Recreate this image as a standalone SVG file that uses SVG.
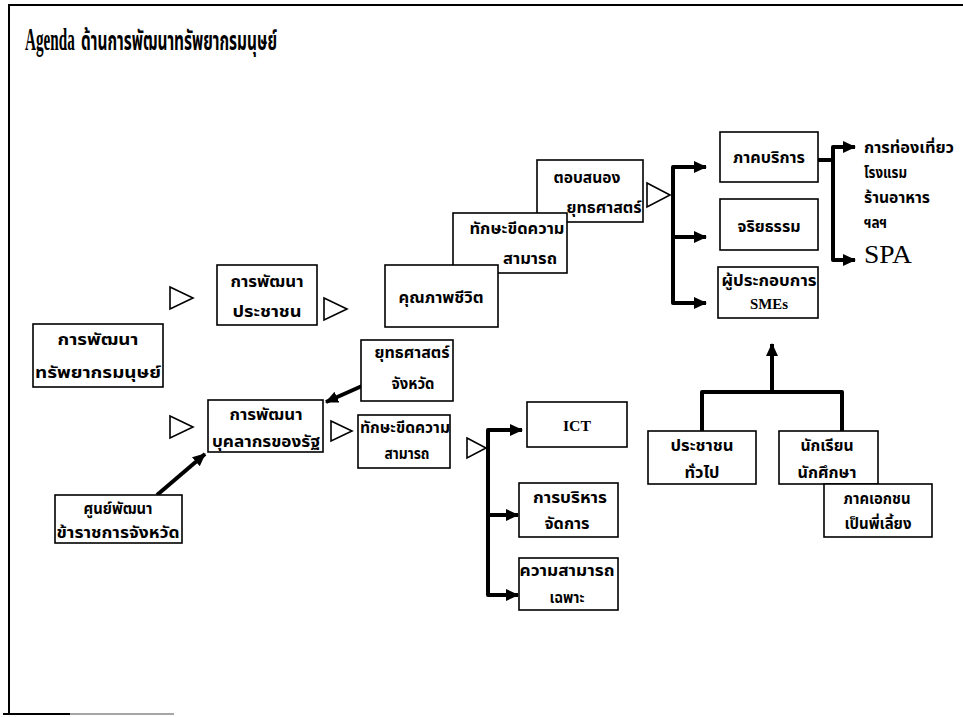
<svg xmlns="http://www.w3.org/2000/svg" width="963" height="717" viewBox="0 0 963 717">
  <style>
    .box { fill: #fff; stroke: #000; stroke-width: 1.6; }
    .tri { fill: #fff; stroke: #000; stroke-width: 1.6; stroke-linejoin: miter; }
    .t { font-family: "Noto Sans Thai", "Noto Sans", "DejaVu Sans", "Liberation Sans", sans-serif; font-weight: bold; font-size: 15px; fill: #000; text-anchor: middle; }
    .tl { text-anchor: start; }
    .en { font-family: "Liberation Serif", serif; font-weight: bold; }
    .wire { fill: none; stroke: #000; stroke-width: 4; stroke-linejoin: round; stroke-linecap: butt; }
  </style>
  <defs>
    <marker id="head" markerUnits="userSpaceOnUse" markerWidth="14" markerHeight="14" viewBox="0 0 14 14" refX="12" refY="7" orient="auto">
      <path d="M0,1 L13,7 L0,13 Z" fill="#000"/>
    </marker>
  </defs>

  <rect width="963" height="717" fill="#fff"/>

  <!-- page frame -->
  <g id="frame" fill="none" stroke="#000">
    <path d="M9,714 V5 H963" stroke-width="2"/>
    <path d="M3,714 H70" stroke-width="2"/>
    <path d="M70,714 H174" stroke="#888" stroke-width="1.5"/>
  </g>

  <!-- heading: condensed serif word followed by the Thai title -->
  <g id="title" font-weight="bold">
    <text transform="translate(25,50) scale(0.49,1)" font-family="Liberation Serif, serif" font-size="31">Agenda</text>
    <text x="81" y="50" font-family="Noto Sans Thai, Noto Sans, sans-serif" font-size="26" textLength="196" lengthAdjust="spacingAndGlyphs">ด้านการพัฒนาทรัพยากรมนุษย์</text>
  </g>

  <!-- connectors -->
  <g id="connectors">
    <!-- outline flow triangles -->
    <path class="tri" d="M170,287 L193,298 L170,309 Z"/>
    <path class="tri" d="M324,298 L347,309 L324,320 Z"/>
    <path class="tri" d="M170,416 L193,427 L170,438 Z"/>
    <path class="tri" d="M331,421 L352,431 L331,441 Z"/>
    <path class="tri" d="M467,438 L486,448 L467,458 Z"/>
    <path class="tri" d="M647,183 L670,195 L647,207 Z"/>

    <!-- thick arrows -->
    <path class="wire" d="M157,495 L205,454" marker-end="url(#head)"/>
    <path class="wire" d="M362,386 L326,402" marker-end="url(#head)"/>

    <path class="wire" d="M706,167 H673 V303 H706" marker-end="url(#head)"/>
    <path class="wire" d="M673,167 H706" marker-end="url(#head)"/>
    <path class="wire" d="M673,237 H706" marker-end="url(#head)"/>

    <path class="wire" d="M818,160 H833"/>
    <path class="wire" d="M855,147 H833 V260 H855" marker-end="url(#head)"/>
    <path class="wire" d="M833,147 H855" marker-end="url(#head)"/>

    <path class="wire" d="M522,430 H488 V595 H518" marker-end="url(#head)"/>
    <path class="wire" d="M488,430 H522" marker-end="url(#head)"/>
    <path class="wire" d="M488,515 H518" marker-end="url(#head)"/>

    <path class="wire" d="M702,431 V392 H842 V431"/>
    <path class="wire" d="M772,392 V344" marker-end="url(#head)"/>
  </g>

  <!-- nodes -->
  <g id="hr-dev">
    <rect class="box" x="33" y="324" width="130" height="63"/>
    <text class="t" x="98" y="345" textLength="81" lengthAdjust="spacingAndGlyphs">การพัฒนา</text>
    <text class="t" x="98" y="378" textLength="126" lengthAdjust="spacingAndGlyphs">ทรัพยากรมนุษย์</text>
  </g>

  <g id="people-dev">
    <rect class="box" x="217" y="265" width="100" height="60"/>
    <text class="t" x="267" y="287" textLength="73" lengthAdjust="spacingAndGlyphs">การพัฒนา</text>
    <text class="t" x="267" y="317" textLength="69" lengthAdjust="spacingAndGlyphs">ประชาชน</text>
  </g>

  <g id="staff-dev">
    <rect class="box" x="208" y="400" width="115" height="52"/>
    <text class="t" x="266" y="420" textLength="73" lengthAdjust="spacingAndGlyphs">การพัฒนา</text>
    <text class="t" x="266" y="447" textLength="108" lengthAdjust="spacingAndGlyphs">บุคลากรของรัฐ</text>
  </g>

  <g id="prov-centre">
    <rect class="box" x="55" y="495" width="127" height="48"/>
    <text class="t" x="118" y="514" textLength="69" lengthAdjust="spacingAndGlyphs">ศูนย์พัฒนา</text>
    <text class="t" x="118" y="538" textLength="123" lengthAdjust="spacingAndGlyphs">ข้าราชการจังหวัด</text>
  </g>

  <g id="prov-strategy">
    <rect class="box" x="361" y="340" width="92" height="61"/>
    <text class="t" x="412" y="358" textLength="75" lengthAdjust="spacingAndGlyphs">ยุทธศาสตร์</text>
    <text class="t" x="413" y="389" textLength="43" lengthAdjust="spacingAndGlyphs">จังหวัด</text>
  </g>

  <g id="respond-strategy">
    <rect class="box" x="537" y="160" width="106" height="62"/>
    <text class="t" x="587" y="183" textLength="67" lengthAdjust="spacingAndGlyphs">ตอบสนอง</text>
    <text class="t" x="604" y="213" textLength="75" lengthAdjust="spacingAndGlyphs">ยุทธศาสตร์</text>
  </g>

  <g id="skills-upper">
    <rect class="box" x="453" y="213" width="114" height="60"/>
    <text class="t" x="517" y="234" textLength="95" lengthAdjust="spacingAndGlyphs">ทักษะขีดความ</text>
    <text class="t" x="530" y="264" textLength="54" lengthAdjust="spacingAndGlyphs">สามารถ</text>
  </g>

  <g id="quality-of-life">
    <rect class="box" x="385" y="265" width="113" height="62"/>
    <text class="t" x="441" y="303" textLength="85" lengthAdjust="spacingAndGlyphs">คุณภาพชีวิต</text>
  </g>

  <g id="service-sector">
    <rect class="box" x="720" y="132" width="98" height="50"/>
    <text class="t" x="769" y="163" textLength="72" lengthAdjust="spacingAndGlyphs">ภาคบริการ</text>
  </g>

  <g id="ethics">
    <rect class="box" x="720" y="199" width="98" height="51"/>
    <text class="t" x="769" y="232" textLength="63" lengthAdjust="spacingAndGlyphs">จริยธรรม</text>
  </g>

  <g id="smes">
    <rect class="box" x="718" y="267" width="100" height="51"/>
    <text class="t" x="769" y="286" textLength="95" lengthAdjust="spacingAndGlyphs">ผู้ประกอบการ</text>
    <text class="t en" x="769" y="309" font-size="15" textLength="38" lengthAdjust="spacingAndGlyphs">SMEs</text>
  </g>

  <g id="service-list">
    <text class="t tl" x="864" y="153" textLength="90" lengthAdjust="spacingAndGlyphs">การท่องเที่ยว</text>
    <text class="t tl" x="864" y="178" textLength="43" lengthAdjust="spacingAndGlyphs">โรงแรม</text>
    <text class="t tl" x="864" y="203" textLength="66" lengthAdjust="spacingAndGlyphs">ร้านอาหาร</text>
    <text class="t tl" x="864" y="228" textLength="23" lengthAdjust="spacingAndGlyphs">ฯลฯ</text>
    <text class="tl" x="864" y="263" font-family="Liberation Serif, serif" font-size="25" textLength="48" lengthAdjust="spacingAndGlyphs">SPA</text>
  </g>

  <g id="skills-lower">
    <rect class="box" x="358" y="415" width="92" height="53"/>
    <text class="t" x="405" y="433" textLength="90" lengthAdjust="spacingAndGlyphs">ทักษะขีดความ</text>
    <text class="t" x="407" y="459" textLength="45" lengthAdjust="spacingAndGlyphs">สามารถ</text>
  </g>

  <g id="ict">
    <rect class="box" x="527" y="402" width="100" height="45"/>
    <text class="t en" x="577" y="431" font-size="16" textLength="28" lengthAdjust="spacingAndGlyphs">ICT</text>
  </g>

  <g id="management">
    <rect class="box" x="519" y="483" width="99" height="54"/>
    <text class="t" x="570" y="503" textLength="74" lengthAdjust="spacingAndGlyphs">การบริหาร</text>
    <text class="t" x="567" y="529" textLength="45" lengthAdjust="spacingAndGlyphs">จัดการ</text>
  </g>

  <g id="special-skills">
    <rect class="box" x="519" y="558" width="99" height="52"/>
    <text class="t" x="567" y="576" textLength="95" lengthAdjust="spacingAndGlyphs">ความสามารถ</text>
    <text class="t" x="567" y="603" textLength="35" lengthAdjust="spacingAndGlyphs">เฉพาะ</text>
  </g>

  <g id="public">
    <rect class="box" x="648" y="431" width="108" height="53"/>
    <text class="t" x="702" y="451" textLength="63" lengthAdjust="spacingAndGlyphs">ประชาชน</text>
    <text class="t" x="702" y="478" textLength="35" lengthAdjust="spacingAndGlyphs">ทั่วไป</text>
  </g>

  <g id="students">
    <rect class="box" x="779" y="431" width="99" height="53"/>
    <text class="t" x="827" y="451" textLength="53" lengthAdjust="spacingAndGlyphs">นักเรียน</text>
    <text class="t" x="827" y="478" textLength="59" lengthAdjust="spacingAndGlyphs">นักศึกษา</text>
  </g>

  <g id="private-mentor">
    <rect class="box" x="824" y="484" width="108" height="53"/>
    <text class="t" x="877" y="504" textLength="67" lengthAdjust="spacingAndGlyphs">ภาคเอกชน</text>
    <text class="t" x="878" y="529" textLength="67" lengthAdjust="spacingAndGlyphs">เป็นพี่เลี้ยง</text>
  </g>
</svg>
